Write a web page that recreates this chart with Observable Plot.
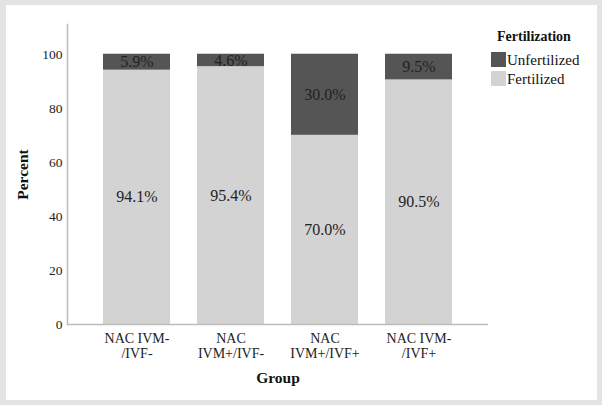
<!DOCTYPE html>
<html>
<head>
<meta charset="utf-8">
<script src="https://cdn.jsdelivr.net/npm/d3@7"></script>
<script src="https://cdn.jsdelivr.net/npm/@observablehq/plot@0.6"></script>
<style>
  html, body { margin: 0; padding: 0; }
  body { width: 602px; height: 405px; background: #e3e3e3; position: relative; overflow: hidden; font-family: "Liberation Serif", "DejaVu Serif", serif; }
  #panel { position: absolute; left: 6px; top: 5px; width: 591px; height: 395px; background: #ffffff; }
  #chart { position: absolute; left: 0; top: 0; }
  #chart svg, #chart svg text { font-family: "Liberation Serif", "DejaVu Serif", serif !important; }
  #chart g[aria-label="x-axis label"] text,
  #chart g[aria-label="y-axis label"] text { font-weight: bold; font-size: 15.5px; fill: #111; }
  .lg { position: absolute; font-family: "Liberation Serif", "DejaVu Serif", serif; color: #111; white-space: nowrap; }
  .lg-title { left: 497px; top: 28px; font-size: 14px; font-weight: bold; line-height: 18px; }
  .lg-row { left: 491px; font-size: 15px; line-height: 18px; display: flex; align-items: flex-start; }
  .lg-sw { width: 15px; height: 15px; margin-top: 1px; margin-right: 1px; }
</style>
</head>
<body>
<div id="panel"></div>
<div id="chart"></div>
<div id="legend"></div>
<script>
const groups = ["NAC IVM-\n/IVF-", "NAC\nIVM+/IVF-", "NAC\nIVM+/IVF+", "NAC IVM-\n/IVF+"];
const fertilized = [94.1, 95.4, 70.0, 90.5];
const unfertilized = [5.9, 4.6, 30.0, 9.5];
const statuses = ["Fertilized", "Unfertilized"];
const statusColors = ["#d3d3d3", "#555555"];
const yTicks = [0, 20, 40, 60, 80, 100];
const legendTitle = "Fertilization";
const legendOrder = ["Unfertilized", "Fertilized"];

const data = groups.flatMap((g, i) => [
  {group: g, status: "Fertilized", value: fertilized[i]},
  {group: g, status: "Unfertilized", value: unfertilized[i]}
]);

const chart = Plot.plot({
  width: 602,
  height: 405,
  marginLeft: 67,
  marginRight: 114,
  marginTop: 24,
  marginBottom: 81,
  style: {background: "transparent", fontFamily: "'Liberation Serif', 'DejaVu Serif', serif", color: "#222"},
  x: {domain: groups, paddingInner: 0.284, paddingOuter: 0.358, label: null},
  y: {domain: [0, 111], label: null},
  color: {domain: statuses, range: statusColors},
  marks: [
    Plot.barY(data, {x: "group", y: "value", fill: "status"}),
    Plot.text(data, Plot.stackY({x: "group", y: "value", text: d => d.value.toFixed(1) + "%", fill: "#222", fontSize: 16})),
    Plot.frame({anchor: "left", stroke: "#bdbdbd", strokeWidth: 1.5}),
    Plot.ruleY([0], {stroke: "#bdbdbd", strokeWidth: 1.5}),
    Plot.axisY({ticks: yTicks, tickSize: 0, tickPadding: 5, fontSize: 13.5, label: "Percent", labelAnchor: "center", labelOffset: 51, labelArrow: "none"}),
    Plot.axisX({tickSize: 0, tickPadding: 8, fontSize: 14, lineHeight: 1.05, label: "Group", labelAnchor: "center", labelOffset: 58, labelArrow: "none"})
  ]
});
document.getElementById("chart").appendChild(chart);

const lg = document.getElementById("legend");
const t = document.createElement("div");
t.className = "lg lg-title";
t.textContent = legendTitle;
lg.appendChild(t);
legendOrder.forEach((s, i) => {
  const row = document.createElement("div");
  row.className = "lg lg-row";
  row.style.top = (51 + i * 19) + "px";
  const sw = document.createElement("span");
  sw.className = "lg-sw";
  sw.style.background = statusColors[statuses.indexOf(s)];
  const tx = document.createElement("span");
  tx.textContent = s;
  row.appendChild(sw);
  row.appendChild(tx);
  lg.appendChild(row);
});
</script>
</body>
</html>
